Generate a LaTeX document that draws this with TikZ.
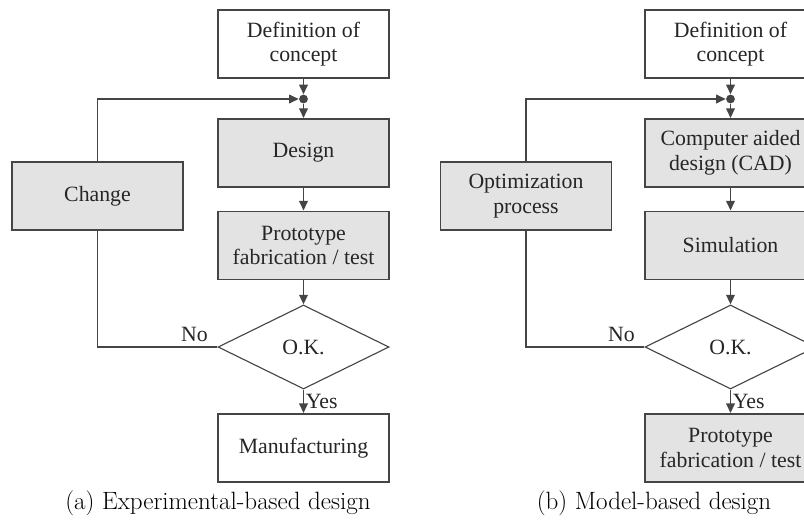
\documentclass[tikz,border=0pt]{standalone}
\usepackage{fontspec}
\newfontfamily\timesfont{Liberation Serif}
\usepackage{tikz}
\usetikzlibrary{shapes,arrows.meta,positioning}
\definecolor{linegray}{HTML}{454545}
\definecolor{boxgray}{HTML}{E3E3E3}
\tikzstyle{block}=[draw=linegray, line width=1.3pt, minimum width=4.275cm, minimum height=1.7cm, inner sep=2pt, align=center, fill=white, text=black!85, font=\timesfont\fontsize{15.5}{17.5}\selectfont]
\tikzstyle{greyblock}=[block, fill=boxgray]
\tikzstyle{decision}=[diamond, draw=linegray, line width=0.8pt, minimum width=4.275cm, minimum height=2.1cm, inner sep=0pt, text=black!85, font=\timesfont\fontsize{15.5}{17.5}\selectfont]
\tikzstyle{joint}=[circle, fill=linegray, inner sep=0pt, minimum size=0.22cm]
\tikzstyle{flow}=[draw=linegray, line width=1.4pt, -{Triangle[length=2.4mm,width=2.1mm]}]
\tikzstyle{back}=[draw=linegray, line width=1.4pt]
\tikzstyle{answer}=[inner sep=1pt, text=black!85, font=\timesfont\fontsize{15.5}{17.5}\selectfont]

\begin{document}
\begin{tikzpicture}[scale=1]
            \clip (0,0) rectangle (20.1,12.975);

            % (a) experimental
            \node[block] (defa) at (7.5875,11.875) {Definition of\\concept};
            \node[joint] (ja) at (7.5875,10.5) {};
            \node[greyblock] (design) at (7.5875,9.15) {Design};
            \node[greyblock] (protoa) at (7.5875,6.8375) {Prototype\\fabrication / test};
            \node[decision] (oka) at (7.5875,4.3) {O.K.};
            \node[block] (manuf) at (7.5875,1.775) {Manufacturing};
            \node[greyblock] (change) at (2.4375,8.075) {Change};

            \begin{scope}[every path/.style={flow}]
                \path (defa) -- (ja);
                \path (ja) -- (design);
                \path (design) -- (protoa);
                \path (protoa) -- (oka);
                \path (oka) -- (manuf) node[answer, midway, right] (yesa) {Yes};
                \path (change.north) |- (ja);
            \end{scope}
            \path[back] (oka.west) -| (change.south);
            \node[answer, anchor=south east] (noa) at ([xshift=-0.2cm,yshift=0.1cm]oka.west) {No};

            % (b) model based
            \node[block] (defb) at (18.2625,11.875) {Definition of\\concept};
            \node[joint] (jb) at (18.2625,10.5) {};
            \node[greyblock] (cad) at (18.2625,9.15) {Computer aided\\design (CAD)};
            \node[greyblock] (sim) at (18.2625,6.8375) {Simulation};
            \node[decision] (okb) at (18.2625,4.3) {O.K.};
            \node[greyblock] (protob) at (18.2625,1.775) {Prototype\\fabrication / test};
            \node[greyblock] (optim) at (13.15,8.075) {Optimization\\process};

            \begin{scope}[every path/.style={flow}]
                \path (defb) -- (jb);
                \path (jb) -- (cad);
                \path (cad) -- (sim);
                \path (sim) -- (okb);
                \path (okb) -- (protob) node[answer, midway, right] (yesb) {Yes};
                \path (optim.north) |- (jb);
            \end{scope}
            \path[back] (okb.west) -| (optim.south);
            \node[answer, anchor=south east] (nob) at ([xshift=-0.2cm,yshift=0.1cm]okb.west) {No};

            % captions
            \node[font=\fontsize{17.8}{20}\selectfont] (capa) at (5.45,0.4) {(a) Experimental-based design};
            \node[font=\fontsize{17.8}{20}\selectfont] (capb) at (16.35,0.4) {(b) Model-based design};
        \end{tikzpicture}
\end{document}
